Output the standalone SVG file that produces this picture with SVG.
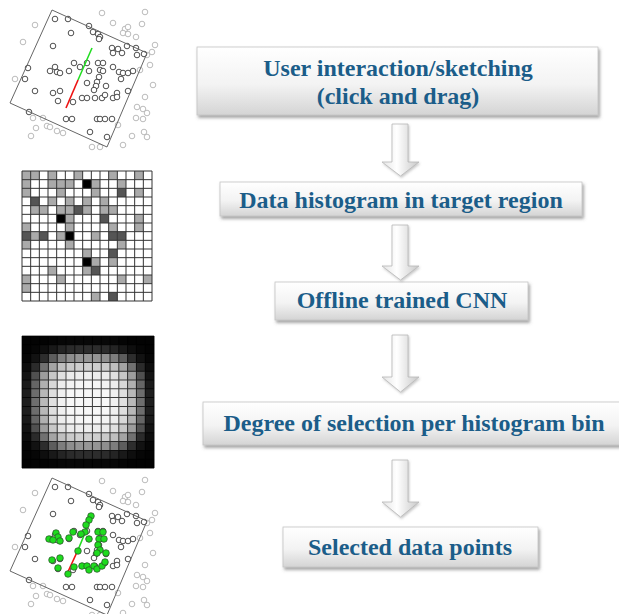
<svg xmlns="http://www.w3.org/2000/svg" xmlns:xlink="http://www.w3.org/1999/xlink" width="619" height="614" viewBox="0 0 619 614">
  <style>
    .pt { fill: #fff; stroke: #222; stroke-width: 0.8; }
    .po { fill: #fff; stroke: #aaa; stroke-width: 0.8; }
    .sel { fill: #1edc1e; stroke: #2a4a2a; stroke-width: 0.7; }
    .frame { fill: none; stroke: #666; stroke-width: 1; }
    .g { fill: #aaaaaa; }
    .d { fill: #555555; }
    .k { fill: #000000; }
    .box { fill: url(#boxFill); stroke: #c4c4c4; stroke-width: 0.8; filter: url(#shadow); }
    .label { font-family: "Liberation Serif", "Times New Roman", serif; font-weight: bold; font-size: 24px; fill: #1b5d89; text-anchor: middle; }
    .arrow { fill: url(#arrowFill); stroke: #b8b8b8; stroke-width: 0.8; filter: url(#ashadow); }
  </style>
  <defs>
    <linearGradient id="boxFill" x1="0" y1="0" x2="0" y2="1">
      <stop offset="0" stop-color="#ffffff"/>
      <stop offset="0.55" stop-color="#f3f3f3"/>
      <stop offset="1" stop-color="#d4d4d4"/>
    </linearGradient>
    <linearGradient id="arrowFill" x1="0" y1="0" x2="1" y2="0">
      <stop offset="0" stop-color="#e4e4e4"/>
      <stop offset="0.4" stop-color="#ffffff"/>
      <stop offset="1" stop-color="#c8c8c8"/>
    </linearGradient>
    <filter id="shadow" x="-5%" y="-20%" width="110%" height="150%">
      <feDropShadow dx="1.5" dy="2.5" stdDeviation="1.5" flood-color="#555" flood-opacity="0.55"/>
    </filter>
    <filter id="ashadow" x="-30%" y="-10%" width="160%" height="130%">
      <feDropShadow dx="1" dy="1.5" stdDeviation="1" flood-color="#777" flood-opacity="0.4"/>
    </filter>

    <!-- scatter points shared by the sketch and result thumbnails -->
    <g id="points">
      <g class="po">
        <circle cx="102" cy="13" r="2.8"/><circle cx="145" cy="12" r="2.8"/><circle cx="35" cy="25" r="2.8"/>
        <circle cx="113" cy="23" r="2.8"/><circle cx="125" cy="29" r="2.8"/><circle cx="128" cy="27" r="2.8"/>
        <circle cx="142" cy="24" r="2.8"/><circle cx="123" cy="33" r="2.8"/><circle cx="128" cy="34" r="2.8"/>
        <circle cx="136" cy="37" r="2.8"/><circle cx="23" cy="42" r="2.8"/><circle cx="155" cy="45" r="2.8"/>
        <circle cx="147" cy="55" r="2.8"/><circle cx="152" cy="52" r="2.8"/><circle cx="150" cy="65" r="2.8"/>
        <circle cx="140" cy="70" r="2.8"/><circle cx="15" cy="79" r="2.8"/><circle cx="153" cy="85" r="2.8"/>
        <circle cx="145" cy="97" r="2.8"/><circle cx="137" cy="107" r="2.8"/><circle cx="143" cy="109" r="2.8"/>
        <circle cx="147" cy="113" r="2.8"/><circle cx="136" cy="118" r="2.8"/><circle cx="143" cy="119" r="2.8"/>
        <circle cx="33" cy="118" r="2.8"/><circle cx="43" cy="118" r="2.8"/><circle cx="47" cy="126" r="2.8"/>
        <circle cx="50" cy="127" r="2.8"/><circle cx="36" cy="128" r="2.8"/><circle cx="57" cy="131" r="2.8"/>
        <circle cx="63" cy="133" r="2.8"/><circle cx="118" cy="125" r="2.8"/><circle cx="132" cy="136" r="2.8"/>
        <circle cx="144" cy="132" r="2.8"/><circle cx="147" cy="137" r="2.8"/><circle cx="123" cy="145" r="2.8"/>
        <circle cx="92" cy="147" r="2.8"/><circle cx="100" cy="147" r="2.8"/><circle cx="31" cy="136" r="2.8"/>
      </g>
      <g class="pt">
        <circle cx="55" cy="19" r="2.8"/><circle cx="68" cy="19" r="2.8"/><circle cx="71" cy="33" r="2.8"/>
        <circle cx="89" cy="26" r="2.8"/><circle cx="93" cy="32" r="2.8"/><circle cx="98" cy="34" r="2.8"/>
        <circle cx="100" cy="37" r="2.8"/><circle cx="99" cy="39" r="2.8"/><circle cx="53" cy="46" r="2.8"/>
        <circle cx="74" cy="63" r="2.8"/><circle cx="112" cy="48" r="2.8"/><circle cx="118" cy="49" r="2.8"/>
        <circle cx="127" cy="46" r="2.8"/><circle cx="136" cy="48" r="2.8"/><circle cx="113" cy="53" r="2.8"/>
        <circle cx="122" cy="53" r="2.8"/><circle cx="137" cy="55" r="2.8"/><circle cx="144" cy="54" r="2.8"/>
        <circle cx="80" cy="67" r="2.8"/><circle cx="87" cy="63" r="2.8"/><circle cx="98" cy="63" r="2.8"/>
        <circle cx="103" cy="63" r="2.8"/><circle cx="100" cy="70" r="2.8"/><circle cx="103" cy="71" r="2.8"/>
        <circle cx="113" cy="67" r="2.8"/><circle cx="89" cy="71" r="2.8"/><circle cx="69" cy="71" r="2.8"/>
        <circle cx="50" cy="71" r="2.8"/><circle cx="55" cy="67" r="2.8"/><circle cx="57" cy="72" r="2.8"/>
        <circle cx="60" cy="73" r="2.8"/><circle cx="28" cy="68" r="2.8"/><circle cx="25" cy="79" r="2.8"/>
        <circle cx="119" cy="72" r="2.8"/><circle cx="123" cy="73" r="2.8"/><circle cx="128" cy="73" r="2.8"/>
        <circle cx="133" cy="71" r="2.8"/><circle cx="121" cy="79" r="2.8"/><circle cx="99" cy="77" r="2.8"/>
        <circle cx="97" cy="82" r="2.8"/><circle cx="96" cy="86" r="2.8"/><circle cx="106" cy="86" r="2.8"/>
        <circle cx="87" cy="83" r="2.8"/><circle cx="35" cy="91" r="2.8"/><circle cx="53" cy="93" r="2.8"/>
        <circle cx="60" cy="91" r="2.8"/><circle cx="94" cy="90" r="2.8"/><circle cx="117" cy="93" r="2.8"/>
        <circle cx="128" cy="91" r="2.8"/><circle cx="82" cy="98" r="2.8"/><circle cx="87" cy="98" r="2.8"/>
        <circle cx="95" cy="98" r="2.8"/><circle cx="102" cy="98" r="2.8"/><circle cx="105" cy="95" r="2.8"/>
        <circle cx="113" cy="98" r="2.8"/><circle cx="117" cy="97" r="2.8"/><circle cx="73" cy="102" r="2.8"/>
        <circle cx="58" cy="101" r="2.8"/><circle cx="29" cy="112" r="2.8"/><circle cx="66" cy="119" r="2.8"/>
        <circle cx="72" cy="119" r="2.8"/><circle cx="97" cy="119" r="2.8"/><circle cx="100" cy="119" r="2.8"/>
        <circle cx="105" cy="119" r="2.8"/><circle cx="112" cy="119" r="2.8"/><circle cx="90" cy="132" r="2.8"/>
        <circle cx="107" cy="137" r="2.8"/>
      </g>
      <polygon class="frame" points="52,10 147,53 107,147 10,103"/>
    </g>

    <!-- rows of the selection map, mirrored top/bottom -->
    <g id="r0"><rect x="0" width="1.02" height="1.02" fill="#030303"/><rect x="1" width="1.02" height="1.02" fill="#030303"/><rect x="2" width="1.02" height="1.02" fill="#030303"/><rect x="3" width="1.02" height="1.02" fill="#050505"/><rect x="4" width="1.02" height="1.02" fill="#070707"/><rect x="5" width="1.02" height="1.02" fill="#080808"/><rect x="6" width="1.02" height="1.02" fill="#080808"/><rect x="7" width="1.02" height="1.02" fill="#080808"/><rect x="8" width="1.02" height="1.02" fill="#080808"/><rect x="9" width="1.02" height="1.02" fill="#080808"/><rect x="10" width="1.02" height="1.02" fill="#070707"/><rect x="11" width="1.02" height="1.02" fill="#050505"/><rect x="12" width="1.02" height="1.02" fill="#030303"/><rect x="13" width="1.02" height="1.02" fill="#030303"/><rect x="14" width="1.02" height="1.02" fill="#030303"/></g>
    <g id="r1"><rect x="0" width="1.02" height="1.02" fill="#030303"/><rect x="1" width="1.02" height="1.02" fill="#060606"/><rect x="2" width="1.02" height="1.02" fill="#0e0e0e"/><rect x="3" width="1.02" height="1.02" fill="#191919"/><rect x="4" width="1.02" height="1.02" fill="#242424"/><rect x="5" width="1.02" height="1.02" fill="#2b2b2b"/><rect x="6" width="1.02" height="1.02" fill="#2d2d2d"/><rect x="7" width="1.02" height="1.02" fill="#2d2d2d"/><rect x="8" width="1.02" height="1.02" fill="#2d2d2d"/><rect x="9" width="1.02" height="1.02" fill="#2b2b2b"/><rect x="10" width="1.02" height="1.02" fill="#242424"/><rect x="11" width="1.02" height="1.02" fill="#191919"/><rect x="12" width="1.02" height="1.02" fill="#0e0e0e"/><rect x="13" width="1.02" height="1.02" fill="#060606"/><rect x="14" width="1.02" height="1.02" fill="#030303"/></g>
    <g id="r2"><rect x="0" width="1.02" height="1.02" fill="#060606"/><rect x="1" width="1.02" height="1.02" fill="#121212"/><rect x="2" width="1.02" height="1.02" fill="#2d2d2d"/><rect x="3" width="1.02" height="1.02" fill="#5d5d5d"/><rect x="4" width="1.02" height="1.02" fill="#7d7d7d"/><rect x="5" width="1.02" height="1.02" fill="#8e8e8e"/><rect x="6" width="1.02" height="1.02" fill="#959595"/><rect x="7" width="1.02" height="1.02" fill="#969696"/><rect x="8" width="1.02" height="1.02" fill="#959595"/><rect x="9" width="1.02" height="1.02" fill="#8e8e8e"/><rect x="10" width="1.02" height="1.02" fill="#7d7d7d"/><rect x="11" width="1.02" height="1.02" fill="#5d5d5d"/><rect x="12" width="1.02" height="1.02" fill="#2d2d2d"/><rect x="13" width="1.02" height="1.02" fill="#121212"/><rect x="14" width="1.02" height="1.02" fill="#060606"/></g>
    <g id="r3"><rect x="0" width="1.02" height="1.02" fill="#0d0d0d"/><rect x="1" width="1.02" height="1.02" fill="#2b2b2b"/><rect x="2" width="1.02" height="1.02" fill="#717171"/><rect x="3" width="1.02" height="1.02" fill="#a4a4a4"/><rect x="4" width="1.02" height="1.02" fill="#bfbfbf"/><rect x="5" width="1.02" height="1.02" fill="#cacaca"/><rect x="6" width="1.02" height="1.02" fill="#cfcfcf"/><rect x="7" width="1.02" height="1.02" fill="#d0d0d0"/><rect x="8" width="1.02" height="1.02" fill="#cfcfcf"/><rect x="9" width="1.02" height="1.02" fill="#cacaca"/><rect x="10" width="1.02" height="1.02" fill="#bfbfbf"/><rect x="11" width="1.02" height="1.02" fill="#a4a4a4"/><rect x="12" width="1.02" height="1.02" fill="#717171"/><rect x="13" width="1.02" height="1.02" fill="#2b2b2b"/><rect x="14" width="1.02" height="1.02" fill="#0d0d0d"/></g>
    <g id="r4"><rect x="0" width="1.02" height="1.02" fill="#131313"/><rect x="1" width="1.02" height="1.02" fill="#505050"/><rect x="2" width="1.02" height="1.02" fill="#9d9d9d"/><rect x="3" width="1.02" height="1.02" fill="#c7c7c7"/><rect x="4" width="1.02" height="1.02" fill="#e0e0e0"/><rect x="5" width="1.02" height="1.02" fill="#ebebeb"/><rect x="6" width="1.02" height="1.02" fill="#ededed"/><rect x="7" width="1.02" height="1.02" fill="#eeeeee"/><rect x="8" width="1.02" height="1.02" fill="#ededed"/><rect x="9" width="1.02" height="1.02" fill="#ebebeb"/><rect x="10" width="1.02" height="1.02" fill="#e0e0e0"/><rect x="11" width="1.02" height="1.02" fill="#c7c7c7"/><rect x="12" width="1.02" height="1.02" fill="#9d9d9d"/><rect x="13" width="1.02" height="1.02" fill="#505050"/><rect x="14" width="1.02" height="1.02" fill="#131313"/></g>
    <g id="r5"><rect x="0" width="1.02" height="1.02" fill="#1a1a1a"/><rect x="1" width="1.02" height="1.02" fill="#656565"/><rect x="2" width="1.02" height="1.02" fill="#b0b0b0"/><rect x="3" width="1.02" height="1.02" fill="#d8d8d8"/><rect x="4" width="1.02" height="1.02" fill="#ededed"/><rect x="5" width="1.02" height="1.02" fill="#f3f3f3"/><rect x="6" width="1.02" height="1.02" fill="#f6f6f6"/><rect x="7" width="1.02" height="1.02" fill="#f7f7f7"/><rect x="8" width="1.02" height="1.02" fill="#f6f6f6"/><rect x="9" width="1.02" height="1.02" fill="#f3f3f3"/><rect x="10" width="1.02" height="1.02" fill="#ededed"/><rect x="11" width="1.02" height="1.02" fill="#d8d8d8"/><rect x="12" width="1.02" height="1.02" fill="#b0b0b0"/><rect x="13" width="1.02" height="1.02" fill="#656565"/><rect x="14" width="1.02" height="1.02" fill="#1a1a1a"/></g>
    <g id="r6"><rect x="0" width="1.02" height="1.02" fill="#1e1e1e"/><rect x="1" width="1.02" height="1.02" fill="#6d6d6d"/><rect x="2" width="1.02" height="1.02" fill="#b8b8b8"/><rect x="3" width="1.02" height="1.02" fill="#dfdfdf"/><rect x="4" width="1.02" height="1.02" fill="#f0f0f0"/><rect x="5" width="1.02" height="1.02" fill="#f7f7f7"/><rect x="6" width="1.02" height="1.02" fill="#f7f7f7"/><rect x="7" width="1.02" height="1.02" fill="#f7f7f7"/><rect x="8" width="1.02" height="1.02" fill="#f7f7f7"/><rect x="9" width="1.02" height="1.02" fill="#f7f7f7"/><rect x="10" width="1.02" height="1.02" fill="#f0f0f0"/><rect x="11" width="1.02" height="1.02" fill="#dfdfdf"/><rect x="12" width="1.02" height="1.02" fill="#b8b8b8"/><rect x="13" width="1.02" height="1.02" fill="#6d6d6d"/><rect x="14" width="1.02" height="1.02" fill="#1e1e1e"/></g>
    <g id="r7"><rect x="0" width="1.02" height="1.02" fill="#1e1e1e"/><rect x="1" width="1.02" height="1.02" fill="#6e6e6e"/><rect x="2" width="1.02" height="1.02" fill="#b9b9b9"/><rect x="3" width="1.02" height="1.02" fill="#e0e0e0"/><rect x="4" width="1.02" height="1.02" fill="#f1f1f1"/><rect x="5" width="1.02" height="1.02" fill="#f7f7f7"/><rect x="6" width="1.02" height="1.02" fill="#f7f7f7"/><rect x="7" width="1.02" height="1.02" fill="#f7f7f7"/><rect x="8" width="1.02" height="1.02" fill="#f7f7f7"/><rect x="9" width="1.02" height="1.02" fill="#f7f7f7"/><rect x="10" width="1.02" height="1.02" fill="#f1f1f1"/><rect x="11" width="1.02" height="1.02" fill="#e0e0e0"/><rect x="12" width="1.02" height="1.02" fill="#b9b9b9"/><rect x="13" width="1.02" height="1.02" fill="#6e6e6e"/><rect x="14" width="1.02" height="1.02" fill="#1e1e1e"/></g>

    <path id="grid15" d="M0 0V15M1 0V15M2 0V15M3 0V15M4 0V15M5 0V15M6 0V15M7 0V15M8 0V15M9 0V15M10 0V15M11 0V15M12 0V15M13 0V15M14 0V15M15 0V15M0 0H15M0 1H15M0 2H15M0 3H15M0 4H15M0 5H15M0 6H15M0 7H15M0 8H15M0 9H15M0 10H15M0 11H15M0 12H15M0 13H15M0 14H15M0 15H15"/>
  </defs>

  <rect width="619" height="614" fill="#ffffff"/>

  <!-- thumbnail: sketch stroke in the scatter plot -->
  <g id="thumb-sketch">
    <use href="#points"/>
    <line x1="92" y1="48" x2="78" y2="80" stroke="#22dd22" stroke-width="1.6"/>
    <line x1="78" y1="80" x2="66" y2="108" stroke="#ee1111" stroke-width="1.6"/>
  </g>

  <!-- thumbnail: histogram of the target region -->
  <g id="thumb-histogram" transform="translate(22,171) scale(8.667)">
    <rect width="15" height="15" fill="#fff"/>
    <rect class="g" x="0" y="0" width="1" height="1"/><rect class="g" x="1" y="0" width="1" height="1"/><rect class="g" x="3" y="0" width="1" height="1"/><rect class="g" x="6" y="0" width="1" height="1"/><rect class="g" x="10" y="0" width="1" height="1"/><rect class="g" x="13" y="0" width="1" height="1"/>
    <rect class="g" x="0" y="1" width="1" height="1"/><rect class="g" x="3" y="1" width="1" height="1"/><rect class="g" x="4" y="1" width="1" height="1"/><rect class="g" x="5" y="1" width="1" height="1"/><rect class="k" x="7" y="1" width="1" height="1"/><rect class="g" x="8" y="1" width="1" height="1"/><rect class="g" x="11" y="1" width="1" height="1"/>
    <rect class="g" x="0" y="2" width="1" height="1"/><rect class="g" x="4" y="2" width="1" height="1"/><rect class="g" x="8" y="2" width="1" height="1"/><rect class="d" x="11" y="2" width="1" height="1"/><rect class="g" x="13" y="2" width="1" height="1"/>
    <rect class="d" x="1" y="3" width="1" height="1"/><rect class="g" x="3" y="3" width="1" height="1"/><rect class="g" x="5" y="3" width="1" height="1"/><rect class="g" x="7" y="3" width="1" height="1"/><rect class="g" x="9" y="3" width="1" height="1"/>
    <rect class="g" x="1" y="4" width="1" height="1"/><rect class="g" x="2" y="4" width="1" height="1"/><rect class="g" x="4" y="4" width="1" height="1"/><rect class="g" x="5" y="4" width="1" height="1"/><rect class="d" x="6" y="4" width="1" height="1"/><rect class="g" x="7" y="4" width="1" height="1"/><rect class="g" x="9" y="4" width="1" height="1"/><rect class="g" x="10" y="4" width="1" height="1"/>
    <rect class="k" x="4" y="5" width="1" height="1"/><rect class="g" x="5" y="5" width="1" height="1"/><rect class="d" x="9" y="5" width="1" height="1"/><rect class="g" x="13" y="5" width="1" height="1"/>
    <rect class="g" x="0" y="6" width="1" height="1"/><rect class="g" x="5" y="6" width="1" height="1"/><rect class="g" x="10" y="6" width="1" height="1"/><rect class="g" x="13" y="6" width="1" height="1"/>
    <rect class="d" x="0" y="7" width="1" height="1"/><rect class="g" x="1" y="7" width="1" height="1"/><rect class="d" x="2" y="7" width="1" height="1"/><rect class="g" x="4" y="7" width="1" height="1"/><rect class="k" x="5" y="7" width="1" height="1"/><rect class="g" x="8" y="7" width="1" height="1"/><rect class="d" x="10" y="7" width="1" height="1"/><rect class="d" x="11" y="7" width="1" height="1"/>
    <rect class="g" x="0" y="8" width="1" height="1"/><rect class="g" x="5" y="8" width="1" height="1"/><rect class="g" x="11" y="8" width="1" height="1"/>
    <rect class="g" x="7" y="9" width="1" height="1"/><rect class="d" x="10" y="9" width="1" height="1"/>
    <rect class="k" x="7" y="10" width="1" height="1"/><rect class="g" x="8" y="10" width="1" height="1"/><rect class="g" x="10" y="10" width="1" height="1"/>
    <rect class="g" x="3" y="11" width="1" height="1"/><rect class="g" x="7" y="11" width="1" height="1"/><rect class="d" x="8" y="11" width="1" height="1"/>
    <rect class="g" x="0" y="12" width="1" height="1"/><rect class="g" x="4" y="12" width="1" height="1"/><rect class="g" x="11" y="12" width="1" height="1"/><rect class="g" x="14" y="12" width="1" height="1"/>
    <rect class="g" x="0" y="13" width="1" height="1"/>
    <rect class="g" x="8" y="14" width="1" height="1"/><rect class="d" x="10" y="14" width="1" height="1"/>
    <use href="#grid15" fill="none" stroke="#333333" stroke-width="0.115"/>
  </g>

  <!-- thumbnail: per-bin degree of selection -->
  <g id="thumb-selection" transform="translate(22,336) scale(8.8)">
    <rect width="15" height="15" fill="#030303"/>
    <use href="#r0" y="0"/><use href="#r1" y="1"/><use href="#r2" y="2"/><use href="#r3" y="3"/>
    <use href="#r4" y="4"/><use href="#r5" y="5"/><use href="#r6" y="6"/><use href="#r7" y="7"/>
    <use href="#r6" y="8"/><use href="#r5" y="9"/><use href="#r4" y="10"/><use href="#r3" y="11"/>
    <use href="#r2" y="12"/><use href="#r1" y="13"/><use href="#r0" y="14"/>
    <use href="#grid15" fill="none" stroke="#000000" stroke-opacity="0.7" stroke-width="0.114"/>
  </g>

  <!-- thumbnail: selected points -->
  <g id="thumb-result">
    <use href="#points" transform="translate(0,468)"/>
    <line x1="92" y1="516" x2="78" y2="550" stroke="#22dd22" stroke-width="1.6"/>
    <line x1="78" y1="550" x2="66" y2="576" stroke="#ee1111" stroke-width="1.6"/>
    <g class="sel">
      <circle cx="91" cy="516" r="3.3"/><circle cx="89" cy="520" r="3.3"/><circle cx="86" cy="525" r="3.3"/>
      <circle cx="85" cy="532" r="3.3"/><circle cx="81" cy="534" r="3.3"/><circle cx="73" cy="532" r="3.3"/>
      <circle cx="56" cy="533" r="3.3"/><circle cx="58" cy="537" r="3.3"/><circle cx="49" cy="539" r="3.3"/>
      <circle cx="53" cy="540" r="3.3"/><circle cx="60" cy="541" r="3.3"/><circle cx="69" cy="538" r="3.3"/>
      <circle cx="89" cy="539" r="3.3"/><circle cx="98" cy="532" r="3.3"/><circle cx="103" cy="532" r="3.3"/>
      <circle cx="99" cy="539" r="3.3"/><circle cx="104" cy="539" r="3.3"/><circle cx="98" cy="545" r="3.3"/>
      <circle cx="100" cy="550" r="3.3"/><circle cx="97" cy="553" r="3.3"/><circle cx="106" cy="553" r="3.3"/>
      <circle cx="78" cy="551" r="3.3"/><circle cx="60" cy="558" r="3.3"/><circle cx="52" cy="560" r="3.3"/>
      <circle cx="58" cy="568" r="3.3"/><circle cx="74" cy="567" r="3.3"/><circle cx="82" cy="566" r="3.3"/>
      <circle cx="87" cy="566" r="3.3"/><circle cx="89" cy="570" r="3.3"/><circle cx="94" cy="566" r="3.3"/>
      <circle cx="97" cy="569" r="3.3"/><circle cx="102" cy="566" r="3.3"/><circle cx="105" cy="562" r="3.3"/>
      <circle cx="68" cy="574" r="3.3"/>
    </g>
  </g>

  <!-- pipeline steps -->
  <g id="step-sketch">
    <rect class="box" x="197" y="47" width="401" height="68"/>
    <text class="label" x="398" y="76">User interaction/sketching</text>
    <text class="label" x="398" y="104">(click and drag)</text>
  </g>
  <g id="step-histogram">
    <rect class="box" x="220" y="182" width="362" height="34"/>
    <text class="label" x="401" y="208">Data histogram in target region</text>
  </g>
  <g id="step-cnn">
    <rect class="box" x="275" y="282" width="253" height="38"/>
    <text class="label" x="402" y="308">Offline trained CNN</text>
  </g>
  <g id="step-degree">
    <rect class="box" x="203" y="402" width="425" height="43"/>
    <text class="label" x="414" y="431">Degree of selection per histogram bin</text>
  </g>
  <g id="step-result">
    <rect class="box" x="283" y="527" width="255" height="40"/>
    <text class="label" x="410" y="555">Selected data points</text>
  </g>

  <!-- flow arrows -->
  <g id="connectors">
    <path class="arrow" d="M392 124H408V162H419L400.5 176L382 162H392Z"/>
    <path class="arrow" d="M392 225H408V266H419L400.5 280L382 266H392Z"/>
    <path class="arrow" d="M392 335H408V377H419L400.5 392L382 377H392Z"/>
    <path class="arrow" d="M392 460H408V502H419L400.5 517L382 502H392Z"/>
  </g>
</svg>
